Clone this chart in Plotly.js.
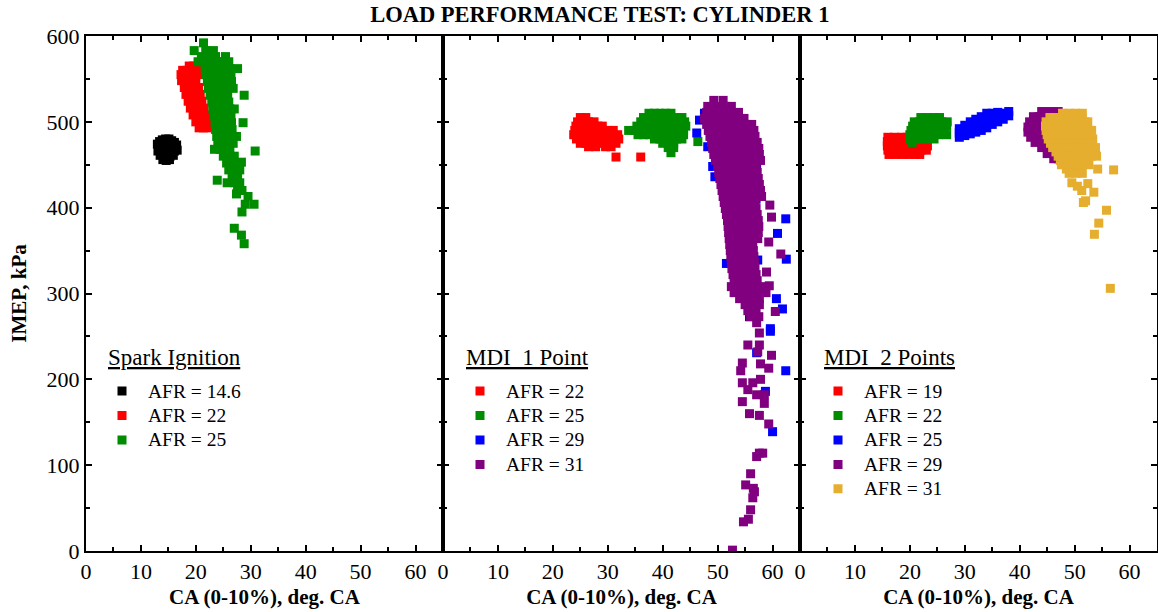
<!DOCTYPE html>
<html><head><meta charset="utf-8">
<script src="https://cdn.plot.ly/plotly-3.0.1.min.js"></script>
<style>html,body{margin:0;padding:0;background:#fff}#chart{width:1158px;height:612px}</style>
</head><body><div id="chart"></div>
<script>
const FONT = 'Liberation Serif, "Times New Roman", serif';

const chartTitle = 'LOAD PERFORMANCE TEST: CYLINDER 1';
const xTitle = 'CA (0-10%), deg. CA';
const yTitle = 'IMEP, kPa';
const groupTitles = ['Spark Ignition', 'MDI_1 Point', 'MDI_2 Points'];

// ---- Panel 1: Spark Ignition ----
const si_afr146 = [[13.0,474],[13.4,477],[13.9,479],[14.5,480],[15.1,480],[15.6,478],[16.1,476],[16.5,473],
 [13.2,470],[13.8,471],[14.4,472],[15.0,471],[15.6,470],[16.2,469],
 [13.1,466],[13.7,465],[14.3,466],[14.9,464],[15.5,465],[16.1,466],[16.6,467],
 [13.5,461],[14.1,460],[14.7,459],[15.3,460],[15.9,461],[14.0,456],[14.6,455],[15.2,456]];
const si_afr22 = [[18.8,565],[19.6,565],[17.6,560],[18.4,560],[19.3,560],[20.2,560],
 [17.3,555],[18.1,555],[19.0,555],[19.9,555],[20.6,555],[17.4,548],[18.2,548],[19.1,548],[20.0,548],
 [17.9,540],[18.7,540],[19.6,540],[20.5,540],[18.2,532],[19.0,532],[19.9,532],[20.8,532],
 [18.6,524],[19.4,524],[20.3,524],[21.1,524],[19.0,516],[19.9,516],[20.7,516],[21.5,516],
 [19.5,508],[20.4,508],[21.2,508],[22.0,508],[20.0,500],[20.9,500],[21.7,500],[22.4,500],
 [20.6,493],[21.4,493],[22.2,493]];
const si_afr25 = [[21.4,592],[19.7,583],[21.8,583],[23.2,583],[21.0,576],[22.2,576],[23.6,576],[25.4,576],
 [20.4,570],[21.5,570],[22.6,570],[23.8,570],[24.8,570],[26.0,570],
 [21.7,562],[22.8,562],[23.9,562],[25.0,562],[26.2,562],[27.6,562],
 [21.9,555],[23.0,555],[24.1,555],[25.2,555],[26.4,555],[22.1,547],[23.2,547],[24.3,547],[25.4,547],[26.5,547],
 [22.3,539],[23.4,539],[24.5,539],[25.6,539],[26.8,539],[22.6,531],[23.6,531],[24.7,531],[25.8,531],[28.8,531],
 [22.9,523],[23.9,523],[24.9,523],[26.0,523],[23.1,515],[24.1,515],[25.1,515],[26.2,515],[27.0,515],
 [23.3,507],[24.3,507],[25.3,507],[26.4,507],[23.5,499],[24.5,499],[25.5,499],[26.5,499],[28.6,499],
 [23.6,491],[24.6,491],[25.6,491],[26.6,491],[23.8,483],[24.7,483],[25.7,483],[26.7,483],[27.4,483],
 [24.0,475],[24.9,475],[25.9,475],[26.8,475],[23.4,468],[24.4,468],[25.3,468],[26.2,468],[30.8,466],
 [25.0,460],[26.0,460],[27.0,460],[25.6,452],[26.6,452],[27.6,452],[28.3,453],
 [26.0,444],[27.0,444],[28.0,444],[26.6,436],[27.6,436],[23.9,432],[25.7,429],[27.2,429],[28.0,429],
 [27.6,420],[28.4,420],[29.5,413],[27.4,416],[30.6,404],[29.0,404],[28.4,395],[27.0,376],[28.3,368],[28.8,358]];

// ---- Panel 2: MDI_1 Point ----
const m1_afr22 = [[25.0,505],[26.0,505],[24.5,500],[25.5,500],[26.5,500],[27.5,500],
 [24.2,495],[25.2,495],[26.2,495],[27.2,495],[28.2,495],[29.0,495],
 [24.0,490],[25.0,490],[26.0,490],[27.0,490],[28.0,490],[29.0,490],[30.0,490],[31.0,490],
 [23.8,485],[24.8,485],[25.8,485],[26.8,485],[27.8,485],[28.8,485],[29.8,485],[30.8,485],[31.8,485],
 [24.3,480],[25.3,480],[26.3,480],[27.3,480],[28.3,480],[29.3,480],[30.3,480],[31.3,480],[32.0,480],
 [25.0,475],[26.0,475],[27.3,475],[28.5,475],[29.5,475],[30.5,475],[31.5,475],
 [26.5,471],[27.8,471],[29.6,471],[30.6,471],[31.5,459],[36.0,459]];
const m1_afr25 = [[37.5,510],[38.5,510],[39.5,510],[40.5,510],[41.5,510],
 [36.5,505],[37.5,505],[38.5,505],[39.5,505],[40.5,505],[41.5,505],[42.5,505],[43.5,505],
 [36.0,500],[37.0,500],[38.0,500],[39.0,500],[40.0,500],[41.0,500],[42.0,500],[43.0,500],[44.0,500],
 [35.3,495],[36.3,495],[37.3,495],[38.3,495],[39.3,495],[40.3,495],[41.3,495],[42.3,495],[43.3,495],[44.2,495],
 [33.8,490],[34.8,490],[35.8,490],[36.8,490],[37.8,490],[38.8,490],[39.8,490],[40.8,490],[41.8,490],[42.8,490],[43.8,490],
 [35.5,485],[36.5,485],[37.5,485],[38.5,485],[39.5,485],[40.5,485],[41.5,485],[42.5,485],[43.8,485],
 [38.5,480],[39.5,480],[40.5,480],[41.5,480],[42.5,480],[43.5,480],[40.0,475],[41.0,475],[42.0,475],
 [41.0,470],[42.0,470],[41.5,464],[46.4,477]];
const m1_afr29 = [[47.6,510],[48.6,505],[49.8,512],[46.7,502],[46.2,487],[48.2,471],[49.1,448],[49.5,436],
 [48.5,495],[50.0,480],[50.5,460],[51.0,440],[51.5,420],[52.0,400],[52.5,380],[53.0,360],[53.5,340],
 [55.0,470],[56.0,450],[57.1,448],[56.5,430],[57.0,410],[56.5,390],[56.0,370],[55.5,350],[56.0,330],
 [62.4,387],[60.9,370],[62.5,340],[60.7,294],[61.8,282],[59.6,259],[62.4,210],[60.0,139],[58.7,186],
 [57.3,339],[51.6,335],[55.3,308],[55.8,273],[59.6,256],[57.1,231]];
const m1_afr31 = [[49.3,525],[51.0,525],[48.2,518],[49.8,518],[51.4,518],[52.5,518],
 [48.0,511],[49.5,511],[51.0,511],[52.5,511],[53.8,511],[47.6,504],[49.0,504],[50.5,504],[52.0,504],[53.5,504],[54.8,504],
 [48.0,497],[49.4,497],[50.8,497],[52.2,497],[53.6,497],[55.0,497],[56.2,497],
 [48.3,490],[49.7,490],[51.1,490],[52.5,490],[53.9,490],[55.3,490],[56.6,490],
 [48.6,483],[50.0,483],[51.4,483],[52.8,483],[54.2,483],[55.6,483],[56.8,483],
 [48.9,476],[50.3,476],[51.7,476],[53.1,476],[54.5,476],[55.9,476],[57.2,476],
 [49.1,469],[50.5,469],[51.9,469],[53.3,469],[54.7,469],[56.1,469],[57.5,469],
 [49.3,462],[50.7,462],[52.1,462],[53.5,462],[54.9,462],[56.3,462],[57.6,462],
 [49.6,455],[51.0,455],[52.4,455],[53.8,455],[55.2,455],[56.6,455],[57.8,455],
 [50.0,448],[51.4,448],[52.8,448],[54.2,448],[55.6,448],[57.0,448],
 [50.2,441],[51.6,441],[53.0,441],[54.4,441],[55.8,441],[57.2,441],
 [50.4,434],[51.8,434],[53.2,434],[54.6,434],[56.0,434],[57.4,434],
 [50.6,427],[52.0,427],[53.4,427],[54.8,427],[56.2,427],[57.6,427],
 [50.8,420],[52.2,420],[53.6,420],[55.0,420],[56.4,420],[57.8,420],
 [51.0,413],[52.4,413],[53.8,413],[55.2,413],[56.6,413],[58.0,413],
 [51.2,406],[52.6,406],[54.0,406],[55.4,406],[56.8,406],[59.5,403],
 [51.4,399],[52.8,399],[54.2,399],[55.6,399],[57.0,399],
 [51.6,392],[53.0,392],[54.4,392],[55.8,392],[57.2,392],[59.8,389],
 [51.8,385],[53.2,385],[54.6,385],[56.0,385],[57.4,385],
 [51.9,378],[53.3,378],[54.7,378],[56.1,378],[57.5,378],
 [52.0,371],[53.4,371],[54.8,371],[56.2,371],[57.4,371],
 [52.1,364],[53.5,364],[54.9,364],[56.3,364],[57.3,364],[59.3,360],
 [52.2,357],[53.6,357],[55.0,357],[56.4,357],[61.5,346],
 [52.3,350],[53.7,350],[55.1,350],[56.5,350],[52.4,343],[53.8,343],[55.2,343],[56.6,343],
 [52.5,336],[53.9,336],[55.3,336],[56.7,336],[52.6,329],[54.0,329],[55.4,329],[56.8,329],
 [52.8,322],[54.2,322],[55.6,322],[57.0,322],[58.9,325],[53.0,315],[54.4,315],[55.8,315],[57.2,315],
 [52.5,308],[54.0,308],[55.5,308],[57.0,308],[58.5,308],[59.4,309],
 [53.0,301],[54.5,301],[56.0,301],[57.5,301],[58.8,301],[54.0,294],[55.5,294],[57.0,294],[57.6,294],
 [55.0,287],[56.3,287],[57.6,287],[55.5,280],[57.0,280],[60.5,279],[56.0,273],[57.5,273],
 [57.1,266],[57.6,254],[55.5,240],[57.6,240],[57.3,232],[59.8,228],[54.5,219],[54.2,210],[57.8,218],[59.3,213],
 [54.5,196],[56.4,196],[57.8,200],[55.5,188],[57.1,182],[58.5,182],[54.5,174],[58.5,172],[55.8,160],[57.6,158],
 [59.3,148],[57.6,114],[57.1,110],[58.2,114],[56.0,90],[55.1,77],[56.5,73],[56.7,69],[56.4,62],[56.0,48],
 [55.6,37],[54.7,34],[52.7,1]];

// ---- Panel 3: MDI_2 Points ----
const m2_afr19 = [[16.0,482],[17.2,482],[18.5,482],[19.5,482],[20.5,482],
 [15.9,477],[17.0,477],[18.2,477],[19.4,477],[20.6,477],[21.6,477],[22.6,477],
 [15.9,472],[17.0,472],[18.2,472],[19.4,472],[20.6,472],[21.8,472],[23.2,472],
 [16.0,467],[17.2,467],[18.4,467],[19.6,467],[20.8,467],[22.0,467],[23.0,467],
 [16.2,462],[17.4,462],[18.6,462],[19.8,462],[21.0,462],[21.8,462]];
const m2_afr22 = [[22.0,505],[23.2,505],[24.4,505],[25.4,505],
 [20.8,500],[21.8,500],[22.8,500],[23.8,500],[24.8,500],[25.8,500],[26.8,500],
 [20.5,495],[21.5,495],[22.5,495],[23.5,495],[24.5,495],[25.5,495],[26.7,495],
 [20.2,490],[21.2,490],[22.2,490],[23.2,490],[24.2,490],[25.2,490],[26.2,490],
 [20.0,485],[21.0,485],[22.0,485],[23.0,485],[24.0,485],[25.2,485],[26.7,485],
 [20.0,480],[21.0,480],[22.0,480],[23.2,480],[24.4,480],[20.4,476]];
const m2_afr25 = [[29.0,482],[29.0,487],[29.0,492],[30.0,484],[30.0,488],[30.0,492],[30.0,496],
 [31.0,486],[31.0,490],[31.0,495],[31.0,500],[32.0,488],[32.0,493],[32.0,498],[32.0,503],
 [33.0,490],[33.0,495],[33.0,500],[33.0,506],[34.0,493],[34.0,498],[34.0,504],[34.0,510],
 [35.0,497],[35.0,503],[35.0,510],[36.0,500],[36.0,505],[36.0,511],[37.0,503],[37.0,509],[38.0,507],[38.0,512],
 [29.5,485],[30.5,490],[31.5,493],[32.5,496],[33.5,499],[34.5,502],[35.5,505],[36.5,508],[37.5,510]];
const m2_afr29 = [[44.0,512],[45.5,512],[47.0,512],[42.5,506],[43.5,506],[44.5,506],[46.0,506],
 [41.8,500],[42.8,500],[43.8,500],[45.0,500],[41.5,494],[42.5,494],[43.5,494],[44.5,494],
 [41.5,488],[42.5,488],[43.5,488],[44.5,488],[42.0,482],[43.0,482],[44.0,482],[45.5,482],
 [42.8,476],[44.0,476],[45.0,476],[44.0,470],[45.2,470],[46.2,470],[45.0,463],[46.2,463],[46.2,457],[47.0,457]];
const m2_afr31 = [[47.8,510],[49.0,510],[50.2,510],[51.4,510],
 [45.5,505],[46.6,505],[47.8,505],[49.0,505],[50.2,505],[51.4,505],
 [44.8,500],[45.8,500],[47.0,500],[48.2,500],[49.4,500],[50.6,500],[51.8,500],[52.4,500],
 [44.7,495],[45.8,495],[47.0,495],[48.2,495],[49.4,495],[50.6,495],[51.8,495],
 [44.8,490],[46.0,490],[47.2,490],[48.4,490],[49.6,490],[50.8,490],[52.0,490],[53.1,490],
 [45.0,485],[46.2,485],[47.4,485],[48.6,485],[49.8,485],[51.0,485],[52.2,485],
 [45.2,480],[46.4,480],[47.6,480],[48.8,480],[50.0,480],[51.2,480],[52.4,480],[53.3,480],
 [45.6,475],[46.8,475],[48.0,475],[49.2,475],[50.4,475],[51.6,475],[52.8,475],
 [46.0,470],[47.2,470],[48.4,470],[49.6,470],[50.8,470],[52.0,470],[53.2,470],[53.8,470],
 [46.6,465],[47.8,465],[49.0,465],[50.2,465],[51.4,465],[52.6,465],
 [47.0,460],[48.2,460],[49.4,460],[50.6,460],[51.8,460],[53.0,460],[54.0,460],
 [47.4,455],[48.6,455],[49.8,455],[51.0,455],[52.2,455],[47.6,450],[48.8,450],[50.0,450],[51.2,450],[52.6,450],
 [48.5,445],[49.6,445],[50.8,445],[49.0,440],[50.2,440],[51.4,440],
 [57.1,444],[54.2,445],[49.5,429],[52.4,428],[51.3,420],[53.5,418],[52.0,408],[51.6,406],[50.5,425],
 [55.8,397],[54.4,382],[53.6,369],[56.5,306]];

const C = {black:'#000000', red:'#FF0000', green:'#008C00', blue:'#0000FF', purple:'#800080', gold:'#E6AE2E'};
const LEG_TEXT_PX = 19.5;

function tr(pts, name, color, n, leg) {
  return {type:'scatter', mode:'markers', x: pts.map(p=>p[0]), y: pts.map(p=>p[1]),
    name: '<span style="font-size:'+LEG_TEXT_PX+'px">'+name+'</span>',
    xaxis: 'x'+(n>1?n:''), yaxis: 'y'+(n>1?n:''), legend: leg,
    marker:{symbol:'square', size:9, color: color, line:{width:0}}, hoverinfo:'x+y'};
}

const data = [
  tr(si_afr146,'AFR = 14.6',C.black,1,'legend'),
  tr(si_afr22,'AFR = 22',C.red,1,'legend'),
  tr(si_afr25,'AFR = 25',C.green,1,'legend'),
  tr(m1_afr22,'AFR = 22',C.red,2,'legend2'),
  tr(m1_afr25,'AFR = 25',C.green,2,'legend2'),
  tr(m1_afr29,'AFR = 29',C.blue,2,'legend2'),
  tr(m1_afr31,'AFR = 31',C.purple,2,'legend2'),
  tr(m2_afr19,'AFR = 19',C.red,3,'legend3'),
  tr(m2_afr22,'AFR = 22',C.green,3,'legend3'),
  tr(m2_afr25,'AFR = 25',C.blue,3,'legend3'),
  tr(m2_afr29,'AFR = 29',C.purple,3,'legend3'),
  tr(m2_afr31,'AFR = 31',C.gold,3,'legend3')
];

const tickFont = {family: FONT, size: 22, color: '#000'};
function xax(dom, anchor) {
  return {domain: dom, anchor: anchor, range:[0,65], tick0:0, dtick:10, ticks:'inside', ticklen:6, tickwidth:2, tickcolor:'#000',
    showline:true, linewidth:2, linecolor:'#000', mirror:'ticks', showgrid:false, zeroline:false, tickfont: tickFont,
    minor:{dtick:5, tick0:0, ticks:'inside', ticklen:4, tickwidth:2, tickcolor:'#000', showgrid:false},
    title:{text:'<b>'+xTitle+'</b>', font:{family:FONT, size:21, color:'#000'}, standoff:6}};
}
function yax(anchor, labels) {
  return {anchor: anchor, domain:[0,1], range:[0,600], tick0:0, dtick:100, ticks:'inside', ticklen:6, tickwidth:2, tickcolor:'#000',
    showline:true, linewidth:2, linecolor:'#000', mirror:'ticks', showgrid:false, zeroline:false, tickfont: tickFont,
    showticklabels: labels,
    minor:{dtick:50, tick0:0, ticks:'inside', ticklen:4, tickwidth:2, tickcolor:'#000', showgrid:false},
    title: labels ? {text:'<b>'+yTitle+'</b>', font:{family:FONT, size:21, color:'#000'}, standoff:14} : {text:''}};
}
function leg(x) {
  return {x: x, y: 0.344, xanchor:'left', yanchor:'top', bgcolor:'rgba(0,0,0,0)', borderwidth:0,
    font:{family:FONT, size:16.5, color:'#000'}, itemwidth:42, tracegroupgap:0};
}
function groupLabel(xpx, text) {
  return {xref:'paper', yref:'paper', x:(xpx-86)/1071, y:(551-357)/515, xanchor:'left', yanchor:'middle',
    text:'<u>'+text+'</u>', showarrow:false, font:{family:FONT, size:23, color:'#000'}};
}

const layout = {
  width:1158, height:612, paper_bgcolor:'#fff', plot_bgcolor:'#fff',
  margin:{l:86, r:1, t:36, b:61},
  title:{text:'<b>'+chartTitle+'</b>', font:{family:FONT, size:22.5, color:'#000'}, x:0.518, xref:'container', xanchor:'center', y:1-14/612, yref:'container', yanchor:'middle'},
  xaxis: xax([0,0.3333],'y'), xaxis2: xax([0.3333,0.6667],'y2'), xaxis3: xax([0.6667,1],'y3'),
  yaxis: yax('x', true), yaxis2: yax('x2', false), yaxis3: yax('x3', false),
  showlegend: true,
  legend: leg((96-86)/1071), legend2: leg((454-86)/1071), legend3: leg((812-86)/1071),
  annotations: [groupLabel(106, groupTitles[0]), groupLabel(464, groupTitles[1]), groupLabel(822, groupTitles[2])]
};

Plotly.newPlot('chart', data, layout, {displayModeBar:false, staticPlot:true});
</script></body></html>
